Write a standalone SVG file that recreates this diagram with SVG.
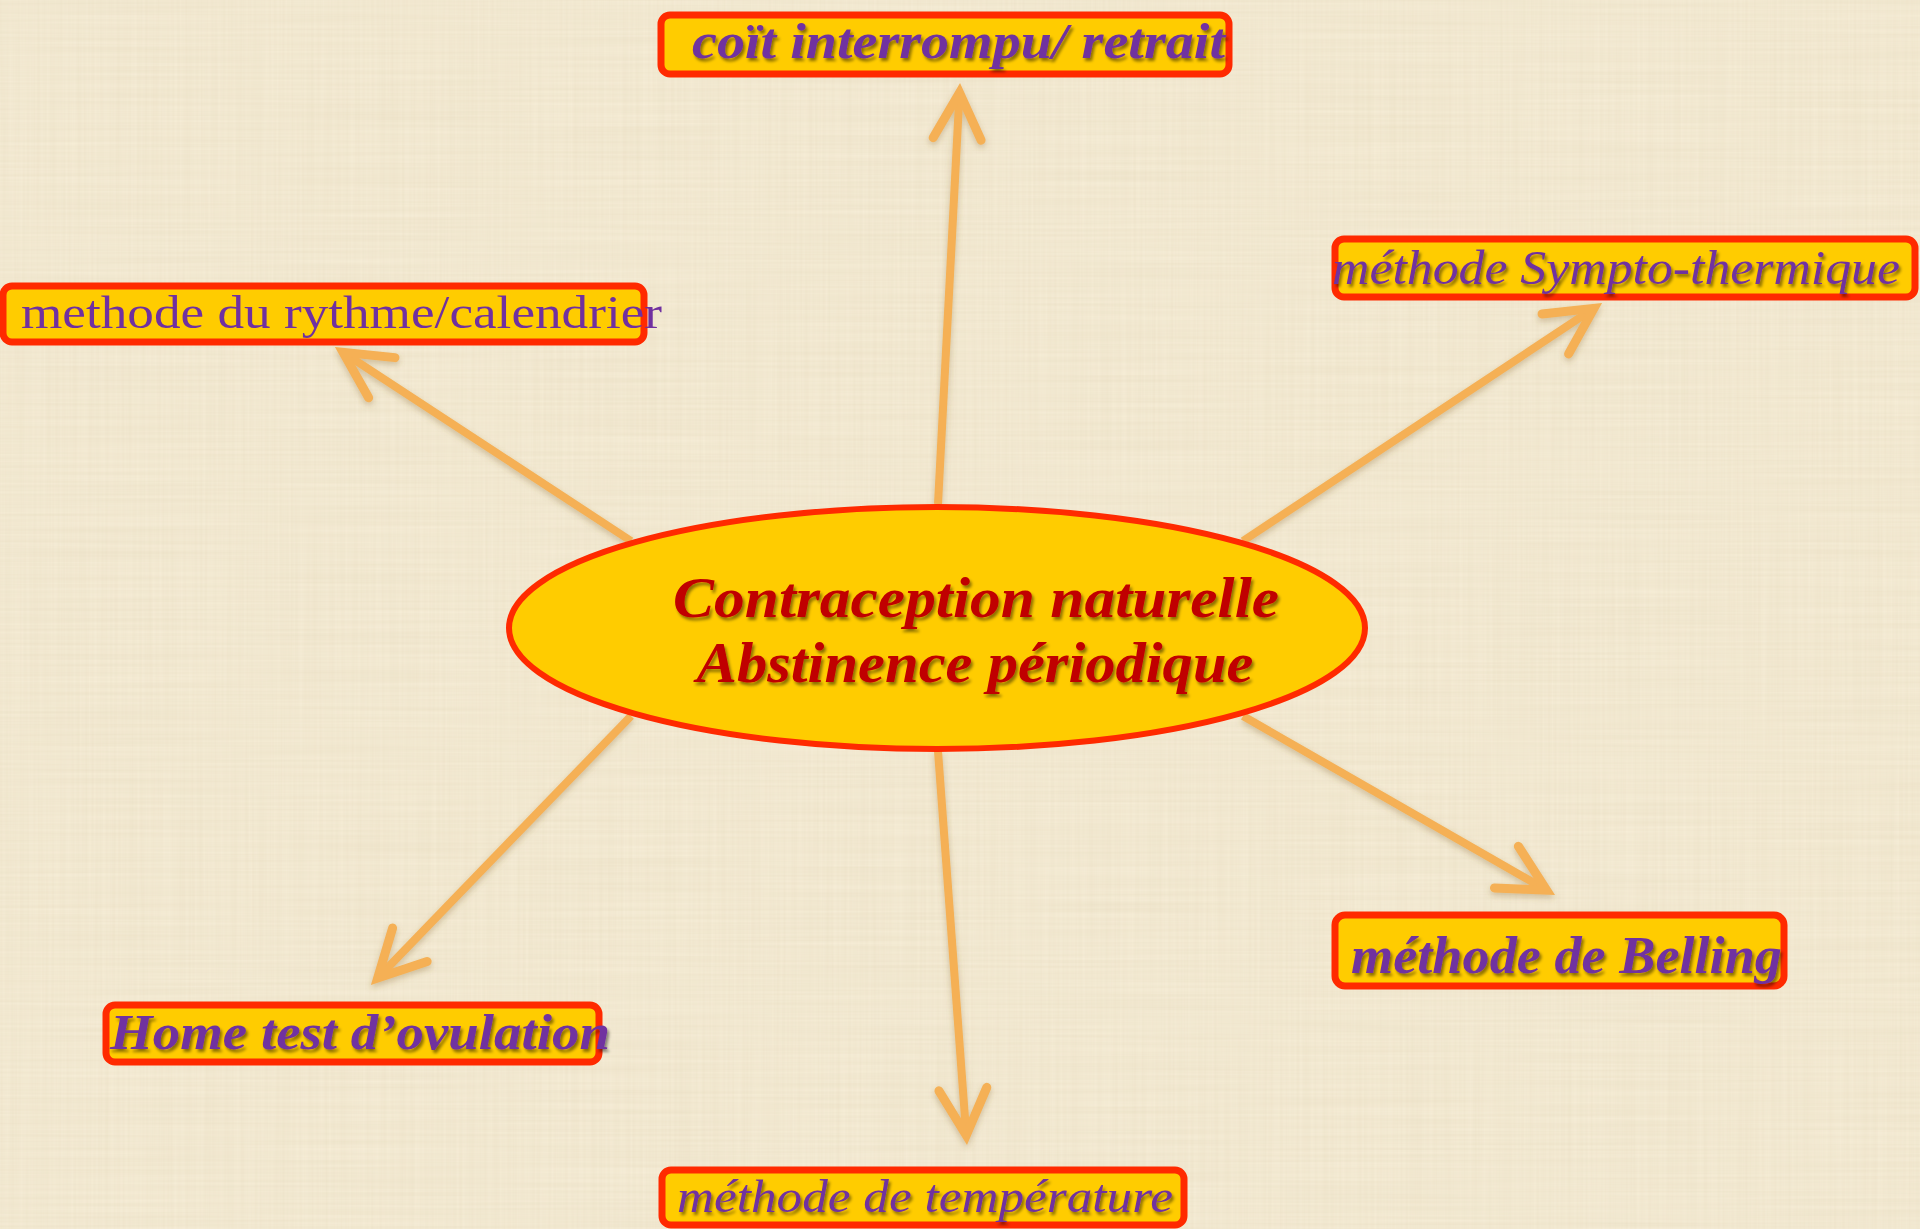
<svg xmlns="http://www.w3.org/2000/svg" width="1920" height="1229" viewBox="0 0 1920 1229">
  <defs>
    <style>
      .box { fill: #FFCC00; stroke: #FF2A00; stroke-width: 7; }
      .lbl { fill: #7030A0; font-family: "Liberation Serif", "DejaVu Serif", serif; }
      .bi { font-weight: bold; font-style: italic; }
      .it { font-style: italic; }
      .ctr { fill: #C00000; font-family: "Liberation Serif", "DejaVu Serif", serif; font-weight: bold; font-style: italic; }
      .arr { fill: none; stroke: #F5B055; stroke-width: 8; stroke-linecap: butt; marker-end: url(#head); }
    </style>
    <marker id="head" viewBox="-60 -35 80 70" markerWidth="80" markerHeight="70" refX="0" refY="0" orient="auto" markerUnits="userSpaceOnUse">
      <path d="M -44 -24 L 2.3 0 L -44 24" fill="none" stroke="#F5B055" stroke-width="9" stroke-linecap="round" stroke-linejoin="miter" stroke-miterlimit="10"/>
    </marker>
    <filter id="tsh" x="-5%" y="-20%" width="110%" height="150%">
      <feDropShadow dx="2" dy="3" stdDeviation="1.5" flood-color="#000" flood-opacity="0.45"/>
    </filter>
    <filter id="ash" x="-20%" y="-20%" width="140%" height="140%">
      <feDropShadow dx="0" dy="3" stdDeviation="3" flood-color="#8a6a30" flood-opacity="0.35"/>
    </filter>
    <filter id="linen" x="0" y="0" width="100%" height="100%">
      <feTurbulence type="fractalNoise" baseFrequency="0.004 0.35" numOctaves="2" seed="3" result="n1"/>
      <feColorMatrix in="n1" type="matrix" values="0 0 0 0 0.55  0 0 0 0 0.45  0 0 0 0 0.25  0 0 0 0.16 -0.02"/>
    </filter>
    <filter id="linen2" x="0" y="0" width="100%" height="100%">
      <feTurbulence type="fractalNoise" baseFrequency="0.35 0.004" numOctaves="2" seed="7" result="n2"/>
      <feColorMatrix in="n2" type="matrix" values="0 0 0 0 0.55  0 0 0 0 0.45  0 0 0 0 0.25  0 0 0 0.12 -0.02"/>
    </filter>
  </defs>

  <g id="background">
    <rect x="0" y="0" width="1920" height="1229" fill="#F6EDD7"/>
    <rect x="0" y="0" width="1920" height="1229" filter="url(#linen)"/>
    <rect x="0" y="0" width="1920" height="1229" filter="url(#linen2)"/>
  </g>

  <g id="connectors" filter="url(#ash)">
    <line class="arr" x1="938" y1="504" x2="959.4" y2="95.0"/>
    <line class="arr" x1="631" y1="541" x2="345.0" y2="353.6"/>
    <line class="arr" x1="1243" y1="541" x2="1592.0" y2="309.6"/>
    <line class="arr" x1="631" y1="716" x2="379.3" y2="976.4"/>
    <line class="arr" x1="1243" y1="716" x2="1544.6" y2="889.0"/>
    <line class="arr" x1="938" y1="751" x2="966.1" y2="1133.0"/>
  </g>

  <g id="center">
    <ellipse cx="937" cy="628" rx="428" ry="121" fill="#FFCC00" stroke="#FF2A00" stroke-width="6"/>
    <g filter="url(#tsh)">
      <text class="ctr" x="976" y="617" font-size="58" text-anchor="middle" textLength="606" lengthAdjust="spacingAndGlyphs">Contraception naturelle</text>
      <text class="ctr" x="975" y="682" font-size="58" text-anchor="middle" textLength="557" lengthAdjust="spacingAndGlyphs">Abstinence périodique</text>
    </g>
  </g>

  <g id="node-coit">
    <rect class="box" x="661" y="15" width="568" height="59" rx="9"/>
    <text class="lbl bi" x="692" y="58" font-size="50" filter="url(#tsh)" textLength="533" lengthAdjust="spacingAndGlyphs">coït interrompu/ retrait</text>
  </g>

  <g id="node-rythme">
    <rect class="box" x="3" y="286" width="641" height="56" rx="9"/>
    <text class="lbl" x="21" y="328" font-size="46" textLength="641" lengthAdjust="spacingAndGlyphs">methode du rythme/calendrier</text>
  </g>

  <g id="node-sympto">
    <rect class="box" x="1335" y="239" width="580" height="58" rx="9"/>
    <text class="lbl it" x="1332" y="284" font-size="48" filter="url(#tsh)" textLength="568" lengthAdjust="spacingAndGlyphs">méthode Sympto-thermique</text>
  </g>

  <g id="node-home">
    <rect class="box" x="106" y="1005" width="493" height="57" rx="9"/>
    <text class="lbl bi" x="110" y="1049" font-size="50" filter="url(#tsh)" textLength="500" lengthAdjust="spacingAndGlyphs">Home test d’ovulation</text>
  </g>

  <g id="node-belling">
    <rect class="box" x="1335" y="915" width="449" height="71" rx="10"/>
    <text class="lbl bi" x="1351" y="973" font-size="52" filter="url(#tsh)" textLength="431" lengthAdjust="spacingAndGlyphs">méthode de Belling</text>
  </g>

  <g id="node-temperature">
    <rect class="box" x="662" y="1170" width="522" height="55" rx="9"/>
    <text class="lbl it" x="677" y="1212" font-size="46" filter="url(#tsh)" textLength="496" lengthAdjust="spacingAndGlyphs">méthode de température</text>
  </g>
</svg>
